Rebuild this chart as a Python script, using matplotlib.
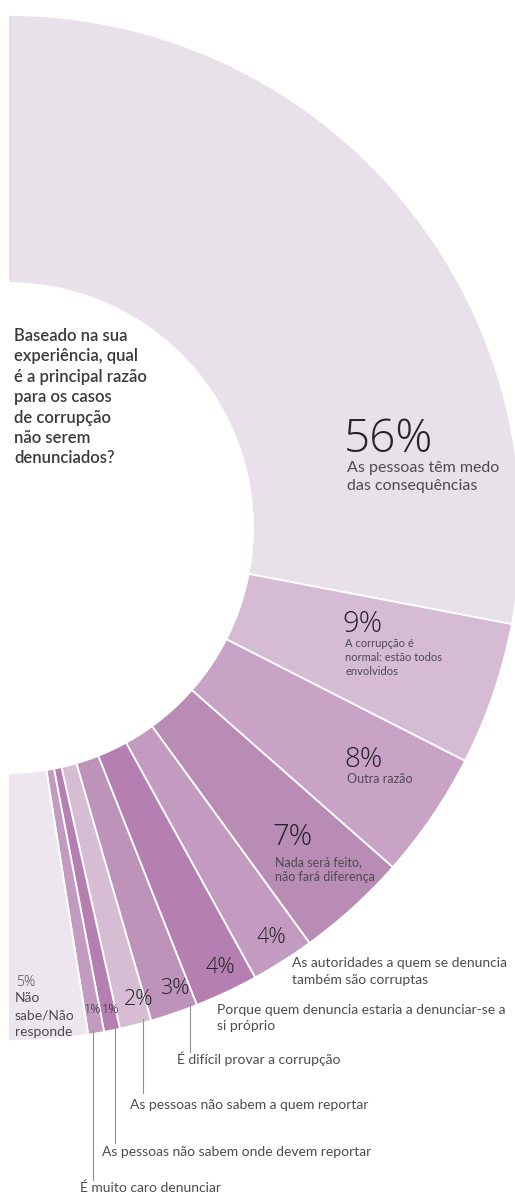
import numpy as np
import matplotlib
matplotlib.use('Agg')
import matplotlib.pyplot as plt

plt.rcParams['font.family'] = ['Lato', 'DejaVu Sans']
num_font = ['Open Sans', 'DejaVu Sans']

# data: clockwise from the top of the half ring
values = [56, 9, 8, 7, 4, 4, 3, 2, 1, 1, 5]
pct_labels = ['56%', '9%', '8%', '7%', '4%', '4%', '3%', '2%', '1%', '1%', '5%']
colors = ['#e9e1ea', '#d5bbd3', '#c9a3c6', '#b98cb5', '#c39bc0', '#b57fb1',
          '#bd93ba', '#d6bdd4', '#b57fb1', '#c39bc0', '#ede6ee']
texts_inside = {
    0: ['As pessoas têm medo', 'das consequências'],
    1: ['A corrupção é', 'normal: estão todos', 'envolvidos'],
    2: ['Outra razão'],
    3: ['Nada será feito,', 'não fará diferença'],
    10: ['Não', 'sabe/Não', 'responde'],
}
texts_outside = {
    4: ['As autoridades a quem se denuncia', 'também são corruptas'],
    5: ['Porque quem denuncia estaria a denunciar-se a', 'si próprio'],
    6: ['É difícil provar a corrupção'],
    7: ['As pessoas não sabem a quem reportar'],
    8: ['As pessoas não sabem onde devem reportar'],
    9: ['É muito caro denunciar'],
}
question = ['Baseado na sua', 'experiência, qual', 'é a principal razão',
            'para os casos', 'de corrupção', 'não serem', 'denunciados?']

W, H = 515, 1198
fig = plt.figure(figsize=(W / 100, H / 100), dpi=100)
ax = fig.add_axes([0, 0, 1, 1])

cx, cy = 8, H - 528
R, r_in = 513, 245

# half donut: add an invisible slice as big as the whole
wedges, _ = ax.pie(values + [sum(values)], colors=colors + ['none'],
                   startangle=90, counterclock=False, radius=R, center=(cx, cy),
                   wedgeprops=dict(width=R - r_in, edgecolor='white', linewidth=1.3))
wedges[-1].set_visible(False)
ax.set_xlim(0, W)
ax.set_ylim(0, H)
ax.axis('off')

dark = '#27232a'
grey = '#4d4a50'


def lines(x, y0, pitch, rows, **kw):
    for i, t in enumerate(rows):
        ax.text(x, H - (y0 + i * pitch), t, va='baseline', ha='left', **kw)


# question inside the hole
lines(14, 341, 20.4, question, fontsize=12, fontweight='semibold', color='#3a3a3a')

# big labels inside the slices: (x, baseline, size, sub-baseline, pitch, subsize)
big = {
    0: (344, 452, 33, 472, 18, 11.5),
    1: (342, 632, 21, 647, 14, 8),
    2: (344, 767, 20, 783, 14, 9),
    3: (272, 845, 21, 866, 15, 9),
}
for i, (x, yb, fs, ys, pitch, ss) in big.items():
    ax.text(x, H - yb, pct_labels[i], fontsize=fs, fontweight='light', family=num_font,
            color=dark, va='baseline', ha='left')
    lines(x + 3, ys, pitch, texts_inside[i], fontsize=ss, color=grey)

# small percentage labels near the bottom (center x, baseline, size)
small = {4: (271, 943, 15.5), 5: (220, 973, 15.5), 6: (175, 994, 15.5),
         7: (139, 1005, 15.5), 8: (110, 1013, 9), 9: (92, 1013, 9)}
for i, (x, yb, fs) in small.items():
    ax.text(x, H - yb, pct_labels[i], fontsize=fs, fontweight='light', family=num_font,
            color=dark, va='baseline', ha='center')

ax.text(16, H - 986, pct_labels[10], fontsize=10, fontweight='light', family=num_font,
        color=grey, va='baseline', ha='left')
lines(15, 1002, 17, texts_inside[10], fontsize=10, color=grey)

# labels outside the ring
lines(292, 967, 17, texts_outside[4], fontsize=10, color=grey)
lines(217, 1014, 16, texts_outside[5], fontsize=10, color=grey)

# leader lines from the slice edge down to the label
leaders = {6: (0.85, 1052, 1064), 7: (0.74, 1093, 1109),
           8: (0.69, 1143, 1156), 9: (0.30, 1180, 1192)}
for i, (f, y_end, y_txt) in leaders.items():
    w = wedges[i]
    ang = np.deg2rad(w.theta1 + f * (w.theta2 - w.theta1))
    x = cx + R * np.cos(ang)
    y = cy + R * np.sin(ang)
    ax.plot([x, x], [y + 4, H - y_end], color='#8f8f8f', lw=0.8)
    lines(x - 13, y_txt, 16, texts_outside[i], fontsize=10, color=grey)

fig.savefig('out.png', dpi=100, facecolor='white')
